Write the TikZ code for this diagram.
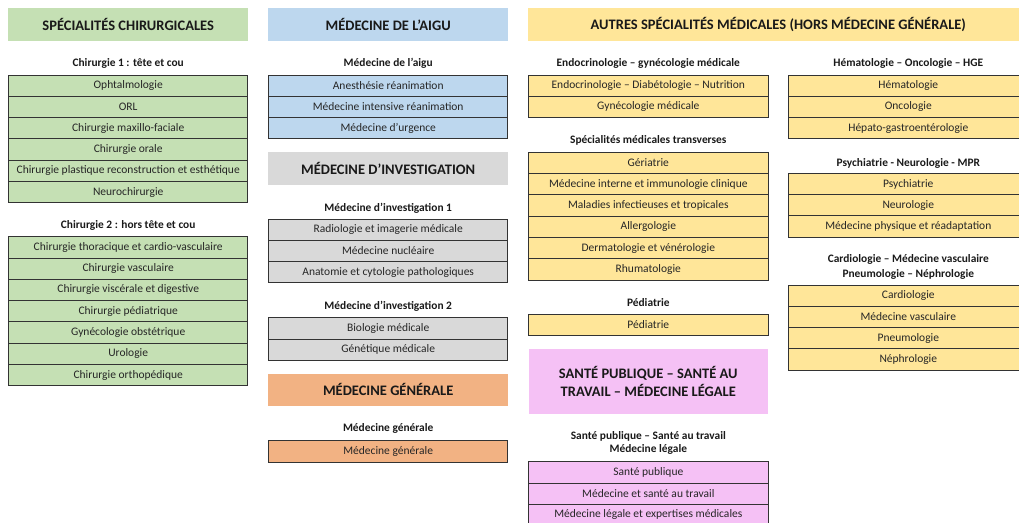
\documentclass[tikz,border=0pt]{standalone}
\usepackage{fontspec}
\setmainfont{Carlito}
\usepackage{tikz}
\definecolor{vertchir}{HTML}{C5E0B4}
\definecolor{bleuaigu}{HTML}{BDD7EE}
\definecolor{grisinv}{HTML}{D9D9D9}
\definecolor{orangemg}{HTML}{F2B283}
\definecolor{jaunemed}{HTML}{FFE699}
\definecolor{rosesp}{HTML}{F5C1F5}
\tikzset{
  titre/.style={minimum width=239.5pt, minimum height=32.4pt, inner sep=0pt, align=center,
    font=\fontsize{14.5}{18}\selectfont\bfseries, text=black!90},
  soustitre/.style={inner sep=0pt, align=center, font=\fontsize{11.4}{12.8}\selectfont\bfseries, text=black!90},
  ligne/.style={draw=black!80, line width=1pt, minimum width=239.5pt, minimum height=21.3pt,
    inner sep=0pt, font=\fontsize{11.5}{13}\selectfont, text=black!85},
}
\begin{document}
\begin{tikzpicture}[x=1pt, y=-1pt]
\useasboundingbox (0, 0) rectangle (1019, 522);
%%% Colonne 1 : specialites chirurgicales
\node[titre, fill=vertchir] (chir) at (128.2, 24.5) {SPÉCIALITÉS CHIRURGICALES};
\node[soustitre] (chirA) at (128.2, 63.3) {Chirurgie 1 : tête et cou};
\node[ligne, fill=vertchir] (chirA1) at (128.2, 85.65) {Ophtalmologie};
\node[ligne, fill=vertchir] (chirA2) at (128.2, 106.95) {ORL};
\node[ligne, fill=vertchir] (chirA3) at (128.2, 128.25) {Chirurgie maxillo-faciale};
\node[ligne, fill=vertchir] (chirA4) at (128.2, 149.55) {Chirurgie orale};
\node[ligne, fill=vertchir] (chirA5) at (128.2, 170.85) {Chirurgie plastique reconstruction et esthétique};
\node[ligne, fill=vertchir] (chirA6) at (128.2, 192.15) {Neurochirurgie};
%%%
\node[soustitre] (chirB) at (128.2, 225.3) {Chirurgie 2 : hors tête et cou};
\node[ligne, fill=vertchir] (chirB1) at (128.2, 247.35) {Chirurgie thoracique et cardio-vasculaire};
\node[ligne, fill=vertchir] (chirB2) at (128.2, 268.65) {Chirurgie vasculaire};
\node[ligne, fill=vertchir] (chirB3) at (128.2, 289.95) {Chirurgie viscérale et digestive};
\node[ligne, fill=vertchir] (chirB4) at (128.2, 311.25) {Chirurgie pédiatrique};
\node[ligne, fill=vertchir] (chirB5) at (128.2, 332.55) {Gynécologie obstétrique};
\node[ligne, fill=vertchir] (chirB6) at (128.2, 353.85) {Urologie};
\node[ligne, fill=vertchir] (chirB7) at (128.2, 375.15) {Chirurgie orthopédique};
%%% Colonne 2 : aigu, investigation, medecine generale
\node[titre, fill=bleuaigu] (aigu) at (388.2, 24.5) {MÉDECINE DE L’AIGU};
\node[soustitre] (aiguA) at (388.2, 63.3) {Médecine de l’aigu};
\node[ligne, fill=bleuaigu] (aiguA1) at (388.2, 85.65) {Anesthésie réanimation};
\node[ligne, fill=bleuaigu] (aiguA2) at (388.2, 106.95) {Médecine intensive réanimation};
\node[ligne, fill=bleuaigu] (aiguA3) at (388.2, 128.25) {Médecine d’urgence};
%%%
\node[titre, fill=grisinv] (inv) at (388.2, 168.5) {MÉDECINE D’INVESTIGATION};
\node[soustitre] (invA) at (388.2, 208) {Médecine d’investigation 1};
\node[ligne, fill=grisinv] (invA1) at (388.2, 229.65) {Radiologie et imagerie médicale};
\node[ligne, fill=grisinv] (invA2) at (388.2, 250.95) {Médecine nucléaire};
\node[ligne, fill=grisinv] (invA3) at (388.2, 272.25) {Anatomie et cytologie pathologiques};
\node[soustitre] (invB) at (388.2, 306.7) {Médecine d’investigation 2};
\node[ligne, fill=grisinv] (invB1) at (388.2, 328.35) {Biologie médicale};
\node[ligne, fill=grisinv] (invB2) at (388.2, 349.65) {Génétique médicale};
%%%
\node[titre, fill=orangemg] (mg) at (388.2, 389.7) {MÉDECINE GÉNÉRALE};
\node[soustitre] (mgA) at (388.2, 428.3) {Médecine générale};
\node[ligne, fill=orangemg] (mgA1) at (388.2, 451.35) {Médecine générale};
%%% Colonnes 3 et 4 : autres specialites medicales
\node[titre, fill=jaunemed, minimum width=500pt] (autres) at (778.3, 24.5) {AUTRES SPÉCIALITÉS MÉDICALES (HORS MÉDECINE GÉNÉRALE)};
\node[soustitre] (endo) at (648.3, 63.3) {Endocrinologie – gynécologie médicale};
\node[ligne, fill=jaunemed] (endo1) at (648.3, 85.65) {Endocrinologie – Diabétologie – Nutrition};
\node[ligne, fill=jaunemed] (endo2) at (648.3, 106.95) {Gynécologie médicale};
\node[soustitre] (transv) at (648.3, 140.7) {Spécialités médicales transverses};
\node[ligne, fill=jaunemed] (transv1) at (648.3, 162.95) {Gériatrie};
\node[ligne, fill=jaunemed] (transv2) at (648.3, 184.25) {Médecine interne et immunologie clinique};
\node[ligne, fill=jaunemed] (transv3) at (648.3, 205.55) {Maladies infectieuses et tropicales};
\node[ligne, fill=jaunemed] (transv4) at (648.3, 226.85) {Allergologie};
\node[ligne, fill=jaunemed] (transv5) at (648.3, 248.15) {Dermatologie et vénérologie};
\node[ligne, fill=jaunemed] (transv6) at (648.3, 269.45) {Rhumatologie};
\node[soustitre] (ped) at (648.3, 302.7) {Pédiatrie};
\node[ligne, fill=jaunemed] (ped1) at (648.3, 324.65) {Pédiatrie};
%%%
\node[soustitre] (hemato) at (908.3, 63.3) {Hématologie – Oncologie – HGE};
\node[ligne, fill=jaunemed] (hemato1) at (908.3, 85.65) {Hématologie};
\node[ligne, fill=jaunemed] (hemato2) at (908.3, 106.95) {Oncologie};
\node[ligne, fill=jaunemed] (hemato3) at (908.3, 128.25) {Hépato-gastroentérologie};
\node[soustitre] (psy) at (908.3, 163.3) {Psychiatrie - Neurologie - MPR};
\node[ligne, fill=jaunemed] (psy1) at (908.3, 183.95) {Psychiatrie};
\node[ligne, fill=jaunemed] (psy2) at (908.3, 205.25) {Neurologie};
\node[ligne, fill=jaunemed] (psy3) at (908.3, 226.55) {Médecine physique et réadaptation};
\node[soustitre, font=\fontsize{11.4}{15}\selectfont\bfseries] (cardio) at (908.3, 266.8) {Cardiologie – Médecine vasculaire\\Pneumologie – Néphrologie};
\node[ligne, fill=jaunemed] (cardio1) at (908.3, 295.65) {Cardiologie};
\node[ligne, fill=jaunemed] (cardio2) at (908.3, 316.95) {Médecine vasculaire};
\node[ligne, fill=jaunemed] (cardio3) at (908.3, 338.25) {Pneumologie};
\node[ligne, fill=jaunemed] (cardio4) at (908.3, 359.55) {Néphrologie};
%%% Sante publique, sante au travail, medecine legale
\node[titre, fill=rosesp, minimum height=65pt] (sp) at (648.3, 381.5) {SANTÉ PUBLIQUE – SANTÉ AU\\TRAVAIL – MÉDECINE LÉGALE};
\node[soustitre] (spA) at (648.3, 443) {Santé publique – Santé au travail\\Médecine légale};
\node[ligne, fill=rosesp] (spA1) at (648.3, 472.35) {Santé publique};
\node[ligne, fill=rosesp] (spA2) at (648.3, 493.65) {Médecine et santé au travail};
\node[ligne, fill=rosesp] (spA3) at (648.3, 514.95) {Médecine légale et expertises médicales};
\end{tikzpicture}
\end{document}
